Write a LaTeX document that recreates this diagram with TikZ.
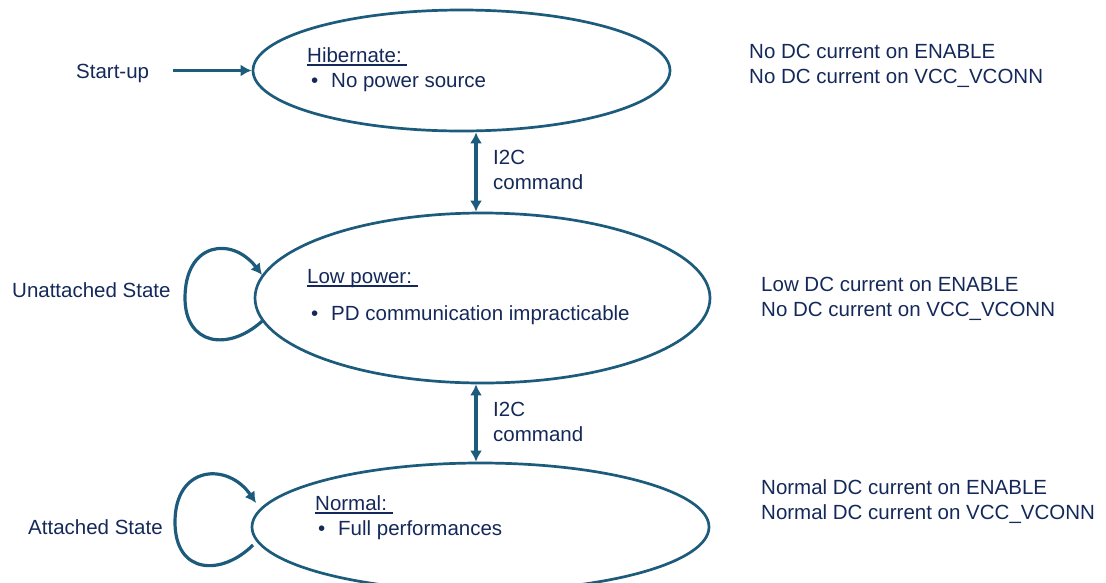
\documentclass[tikz,border=0pt]{standalone}
\usepackage{fontspec}
\setmainfont{Liberation Sans}
\usetikzlibrary{arrows.meta,shapes.geometric,calc}
\definecolor{txtc}{HTML}{14295A}
\definecolor{linec}{HTML}{1C5B7B}
\newcommand\myul[1]{\setbox0\hbox{#1}\rlap{\rule[-4pt]{\wd0}{1.6pt}}\box0}
\begin{document}
\begin{tikzpicture}[x=1pt,y=-1pt,
  txt/.style={anchor=base west,inner sep=0pt,text=txtc,font=\fontsize{20.5}{25}\selectfont},
  state/.style={draw=linec,line width=2.7pt,ellipse,inner sep=0pt},
  conn/.style={draw=linec,line width=3.2pt,-{Latex[length=11pt,width=12pt]}},
  bconn/.style={draw=linec,line width=3.2pt,{Latex[length=11pt,width=12pt]}-{Latex[length=11pt,width=12pt]}}]
\useasboundingbox (0,0) rectangle (1106,582);
% states
\node[state,minimum width=417pt,minimum height=121pt] (e1) at (461.5,70.5) {};
\node[state,minimum width=455pt,minimum height=170pt] (e2) at (482.5,298) {};
\node[state,minimum width=457pt,minimum height=128pt] (e3) at (480.5,527) {};
% state texts
\node[txt] (h1) at (307,62) {\myul{Hibernate:\ }};
\node[txt] (h2) at (311,87) {•};
\node[txt] (h3) at (331,87) {No power source};
\node[txt] (l1) at (307,283) {\myul{Low power:\ }};
\node[txt] (l2) at (311,320) {•};
\node[txt] (l3) at (331,320) {PD communication impracticable};
\node[txt] (n1) at (315,510) {\myul{Normal:\ }};
\node[txt] (n2) at (318,535) {•};
\node[txt] (n3) at (338,535) {Full performances};
% side texts
\node[txt] (su) at (76,78) {Start-up};
\node[txt] (ua) at (12,297) {Unattached State};
\node[txt] (at) at (28,534) {Attached State};
\node[txt] (r1) at (749,58) {No DC current on ENABLE};
\node[txt] (r2) at (749,83) {No DC current on VCC\_VCONN};
\node[txt] (r3) at (761,291) {Low DC current on ENABLE};
\node[txt] (r4) at (761,316) {No DC current on VCC\_VCONN};
\node[txt] (r5) at (761,494) {Normal DC current on ENABLE};
\node[txt] (r6) at (761,519) {Normal DC current on VCC\_VCONN};
\node[txt] (c1) at (493,164) {I2C};
\node[txt] (c2) at (493,189) {command};
\node[txt] (c3) at (493,416) {I2C};
\node[txt] (c4) at (493,441) {command};
% connectors
\coordinate (sa) at (173,70.5);
\draw[conn] (sa) -- (e1.west);
\coordinate (ax) at (476,0);
\draw[bconn] (e1.south -| ax) -- (e2.north -| ax);
\draw[bconn] (e2.south -| ax) -- (e3.north -| ax);
\draw[conn] (e2.186) .. controls (228,352) and (185,345) .. (185,298)
  .. controls (185,242) and (232,236) .. (e2.174);
\coordinate (l3s) at (253,545);
\coordinate (l3e) at (256,503);
\draw[conn] (l3s) .. controls (222,576) and (175,575) .. (175,522)
  .. controls (175,465) and (228,462) .. (l3e);
\end{tikzpicture}
\end{document}
